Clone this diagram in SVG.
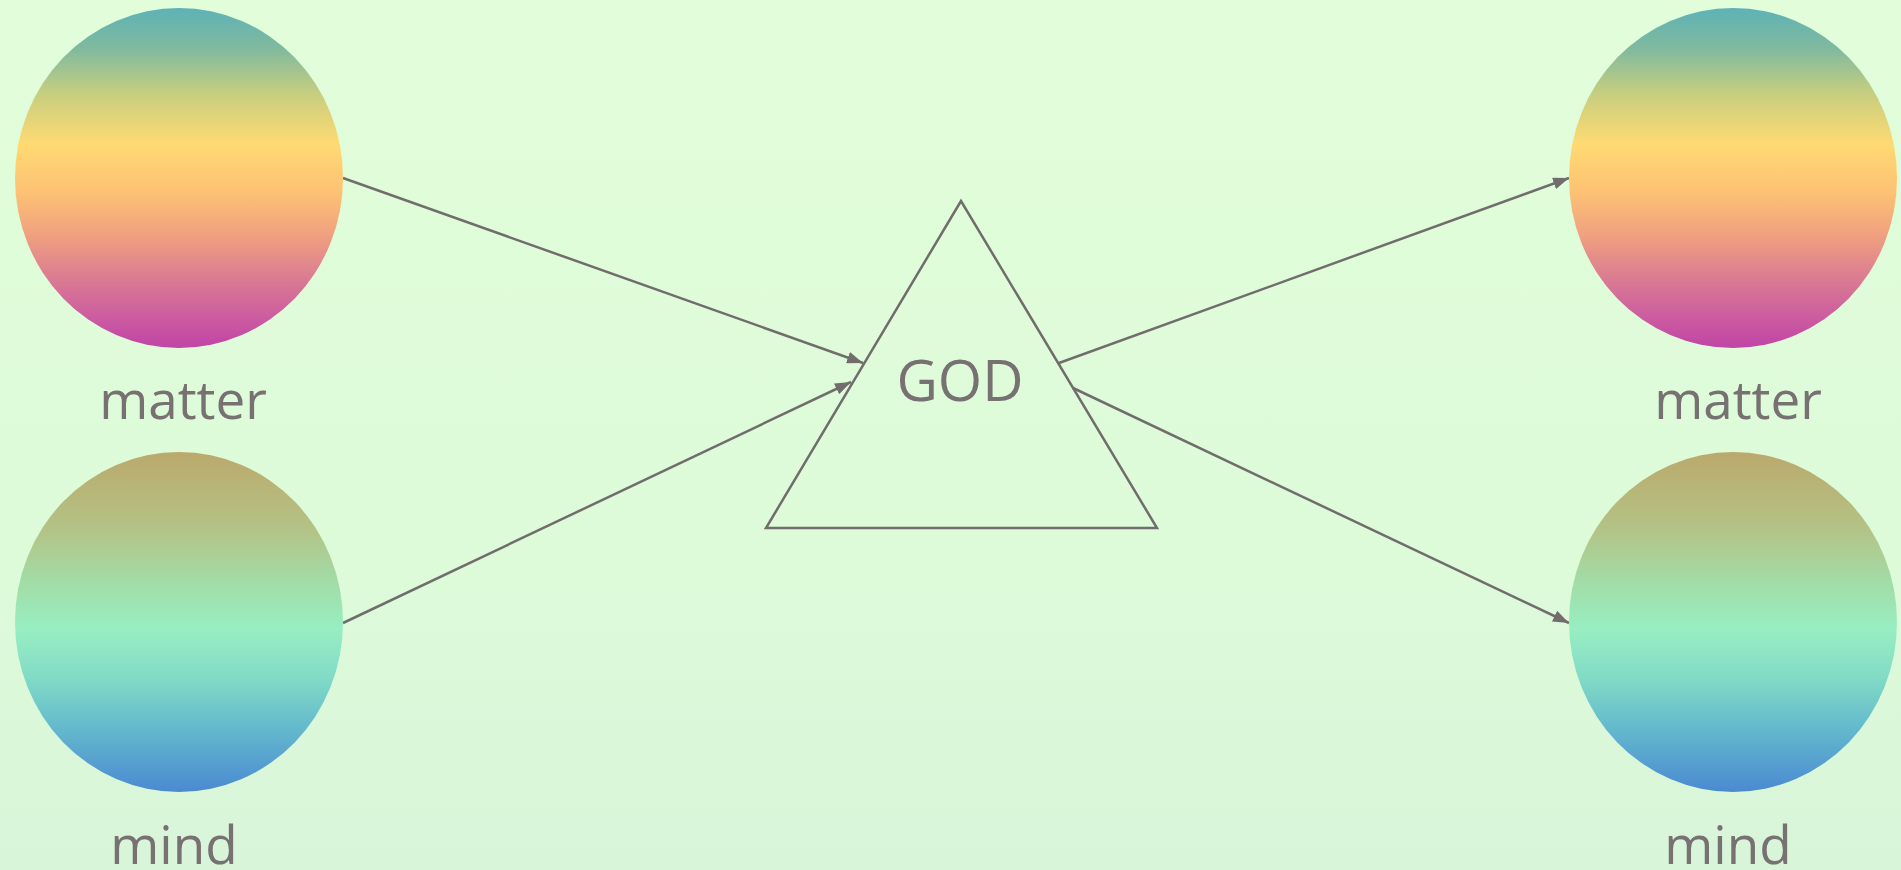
<svg xmlns="http://www.w3.org/2000/svg" width="1901" height="870" viewBox="0 0 1901 870">
<style>
.lbl{font-family:"Open Sans","Noto Sans","Liberation Sans",sans-serif;font-weight:400;fill:#777171;text-anchor:middle}
.edge{stroke:#716d6d;stroke-width:2.5;fill:none}
</style>
<defs>
<linearGradient id="bg" x1="0" y1="0" x2="0" y2="1">
<stop offset="0" stop-color="#e1fdda"/>
<stop offset="0.6" stop-color="#defbd9"/>
<stop offset="1" stop-color="#d8f5da"/>
</linearGradient>
<linearGradient id="gMatter" x1="0" y1="0" x2="0" y2="1">
<stop offset="0" stop-color="#5eb2b6"/>
<stop offset="0.12" stop-color="#80ba9e"/>
<stop offset="0.25" stop-color="#c6ce80"/>
<stop offset="0.4" stop-color="#ffda72"/>
<stop offset="0.54" stop-color="#fdc274"/>
<stop offset="0.67" stop-color="#f0a080"/>
<stop offset="0.8" stop-color="#da7a92"/>
<stop offset="0.91" stop-color="#cc5ca0"/>
<stop offset="1" stop-color="#c044a6"/>
</linearGradient>
<linearGradient id="gMind" x1="0" y1="0" x2="0" y2="1">
<stop offset="0" stop-color="#bba96c"/>
<stop offset="0.22" stop-color="#b4c285"/>
<stop offset="0.38" stop-color="#a2dca6"/>
<stop offset="0.52" stop-color="#98eec2"/>
<stop offset="0.66" stop-color="#82dcc6"/>
<stop offset="0.8" stop-color="#66bccc"/>
<stop offset="0.92" stop-color="#559ed0"/>
<stop offset="1" stop-color="#4a8ad0"/>
</linearGradient>
<marker id="arr" viewBox="0 0 16 12" refX="16" refY="6" markerWidth="16" markerHeight="12" markerUnits="userSpaceOnUse" orient="auto">
<path d="M0,0 L16,6 L0,12 z" fill="#716d6d"/>
</marker>
</defs>
<rect width="1901" height="870" fill="url(#bg)"/>
<g id="connectors">
<line class="edge" x1="343" y1="178" x2="863" y2="363" marker-end="url(#arr)"/>
<line class="edge" x1="343" y1="623" x2="851" y2="382" marker-end="url(#arr)"/>
<line class="edge" x1="1059" y1="363" x2="1569" y2="178" marker-end="url(#arr)"/>
<line class="edge" x1="1073" y1="388" x2="1569" y2="623" marker-end="url(#arr)"/>
</g>
<g id="matter-left">
<ellipse cx="179" cy="178" rx="164" ry="170" fill="url(#gMatter)"/>
<text class="lbl" x="183" y="419" font-size="53">matter</text>
</g>
<g id="mind-left">
<ellipse cx="179" cy="622" rx="164" ry="170" fill="url(#gMind)"/>
<text class="lbl" x="174" y="864" font-size="53">mind</text>
</g>
<g id="god">
<polygon points="961,201 766,528 1157,528" fill="none" stroke="#716d6d" stroke-width="2.5"/>
<text class="lbl" x="960" y="401" font-size="57">GOD</text>
</g>
<g id="matter-right">
<ellipse cx="1733" cy="178" rx="164" ry="170" fill="url(#gMatter)"/>
<text class="lbl" x="1738" y="419" font-size="53">matter</text>
</g>
<g id="mind-right">
<ellipse cx="1733" cy="622" rx="164" ry="170" fill="url(#gMind)"/>
<text class="lbl" x="1728" y="864" font-size="53">mind</text>
</g>
</svg>
